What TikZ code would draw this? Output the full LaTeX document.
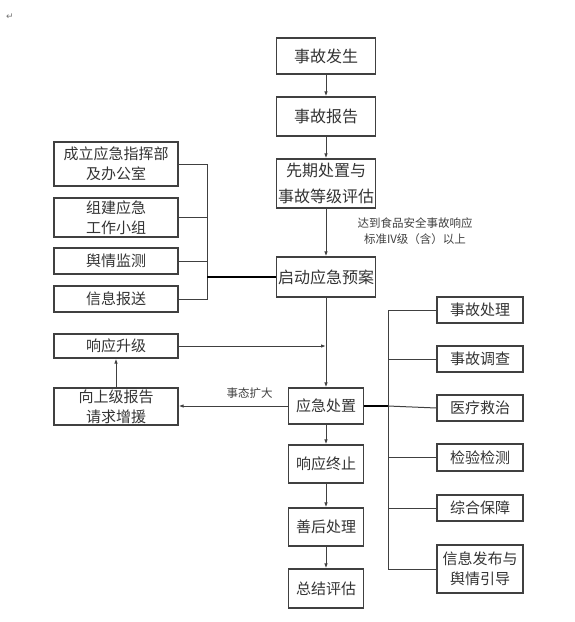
\documentclass[tikz,border=0pt]{standalone}
\usepackage{fontspec}
\newfontfamily\cjk{Noto Sans CJK SC}
\newfontfamily\markfont{DejaVu Sans}
\usetikzlibrary{arrows.meta}

\begin{document}
\begin{tikzpicture}[x=1pt,y=-1pt,
  box/.style={draw=black!75,line width=1.2pt,text=black!80,align=center,inner sep=0pt,
    minimum width=75,font=\cjk\fontsize{15}{20}\selectfont},
  topbox/.style={box,minimum width=99,font=\cjk\fontsize{16}{26}\selectfont},
  sidebox/.style={box,minimum width=124},
  rbox/.style={box,minimum width=86},
  line/.style={draw=black!75,line width=1pt},
  arr/.style={line,-{Latex[length=5pt,width=3.5pt]}},
  lab/.style={text=black!75,align=center,font=\cjk\fontsize{11.5}{16}\selectfont}]
\useasboundingbox (0,0) rectangle (575,622);
\node[text=black!55,font=\markfont\fontsize{9}{9}\selectfont] (mark) at (10,17) {↵};
% main column
\node[topbox,minimum height=36] (fs) at (326,56) {事故发生};
\node[topbox,minimum height=39] (bg) at (326,116.5) {事故报告};
\node[topbox,minimum height=49] (xq) at (326,183.5) {先期处置与\\事故等级评估};
\node[topbox,minimum height=40] (qd) at (326,277) {启动应急预案};
\node[box,minimum height=36] (cz) at (326,406) {应急处置};
\node[box,minimum height=38] (zz) at (326,464) {响应终止};
\node[box,minimum height=38] (sh) at (326,527) {善后处理};
\node[box,minimum height=39] (zp) at (326,588.5) {总结评估};
\node[lab] (lvl) at (415,231) {达到食品安全事故响应\\标准IV级（含）以上};
% left side
\node[sidebox,minimum height=44] (cl) at (116,164) {成立应急指挥部\\及办公室};
\node[sidebox,minimum height=39] (zj) at (116,217.5) {组建应急\\工作小组};
\node[sidebox,minimum height=26] (yq) at (116,261) {舆情监测};
\node[sidebox,minimum height=26] (xx) at (116,299) {信息报送};
\node[sidebox,minimum height=24] (sj) at (116,346) {响应升级};
\node[sidebox,minimum height=37] (sb) at (116,406.5) {向上级报告\\请求增援};
% right side
\node[rbox,minimum height=26] (r1) at (480,310) {事故处理};
\node[rbox,minimum height=26] (r2) at (480,359) {事故调查};
\node[rbox,minimum height=26] (r3) at (480,408) {医疗救治};
\node[rbox,minimum height=27] (r4) at (480,457.5) {检验检测};
\node[rbox,minimum height=26] (r5) at (480,508) {综合保障};
\node[rbox,minimum height=48] (r6) at (480,569) {信息发布与\\舆情引导};
\coordinate (lb) at (207,277);
\coordinate (rb) at (388,406);
% connectors
\draw[arr] (fs) -- (bg);
\draw[arr] (bg) -- (xq);
\draw[arr] (xq) -- (qd);
\draw[arr] (qd) -- (cz);
\draw[arr] (cz) -- (zz);
\draw[arr] (zz) -- (sh);
\draw[arr] (sh) -- (zp);
\draw[line] (cl.east) -| (xx.east -| lb) -- (xx.east);
\draw[line] (zj.east) -- (zj.east -| lb);
\draw[line] (yq.east) -- (yq.east -| lb);
\draw[line width=2pt] (lb) -- (qd.west);
\draw[arr] (sb) -- (sj);
\draw[arr] (sj.east) -- (sj.east -| cz.north);
\draw[arr] (cz.west) -- node[lab,above=4pt,pos=0.35] (kd) {事态扩大} (cz.west -| sb.east);
\draw[line width=2pt] (cz.east) -- (rb);
\draw[line] (r1.west) -| (r6.west -| rb) -- (r6.west);
\draw[line] (r2.west) -- (r2.west -| rb);
\draw[line] (r3.west) -- (rb);
\draw[line] (r4.west) -- (r4.west -| rb);
\draw[line] (r5.west) -- (r5.west -| rb);
\end{tikzpicture}
\end{document}
